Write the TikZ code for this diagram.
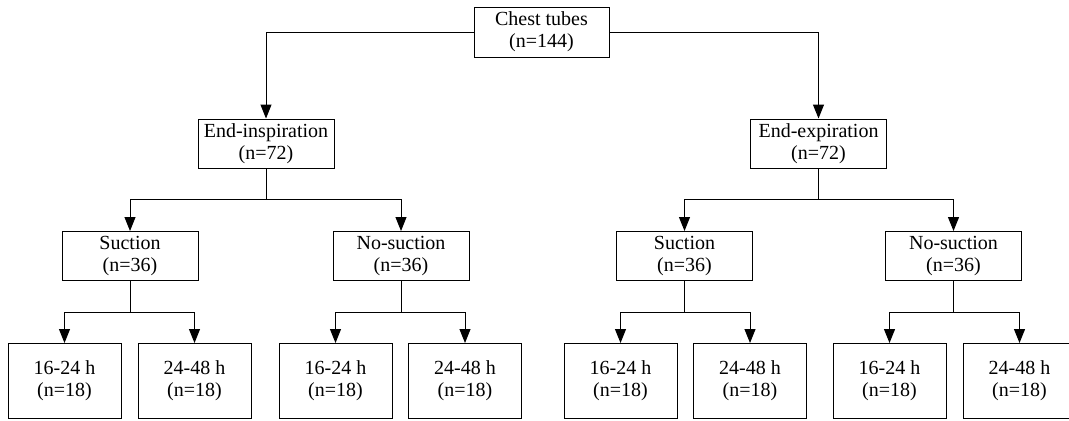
\documentclass[tikz,border=0pt]{standalone}
\usepackage{fontspec}
\setmainfont{Liberation Serif}
\usetikzlibrary{arrows.meta, calc}

\tikzset{
  box/.style={draw, line width=0.5pt, align=center, inner sep=0pt,
              font=\fontsize{10}{11}\selectfont},
  topbox/.style={box, minimum width=67.5pt, minimum height=25pt},
  midbox/.style={box, minimum width=68pt, minimum height=24.5pt},
  leafbox/.style={box, minimum width=56.5pt, minimum height=37.5pt},
  arr/.style={draw, line width=0.5pt, -{Triangle[length=7pt, width=5.5pt]}},
  fork/.style={arr, to path={(\tikztostart) |- ($(\tikztostart)!0.5!(\tikztotarget.north)$) -| (\tikztotarget)}}
}

\begin{document}
\begin{tikzpicture}[x=0.5pt, y=-0.5pt]
    \useasboundingbox (0,0) rectangle (1069,420);

    % root and phases
    \node[topbox] (tubes) at (541.5,32) {Chest tubes\\(n=144)};
    \node[midbox] (insp) at (266,143.5) {End-inspiration\\(n=72)};
    \node[midbox] (exp) at (818.5,143.5) {End-expiration\\(n=72)};

    % suction groups
    \node[midbox] (suc1) at (130,256) {Suction\\(n=36)};
    \node[midbox] (nosuc1) at (401,256) {No-suction\\(n=36)};
    \node[midbox] (suc2) at (684.5,256) {Suction\\(n=36)};
    \node[midbox] (nosuc2) at (953.5,256) {No-suction\\(n=36)};

    % duration groups
    \foreach \x/\t [count=\i] in {64.5/16-24, 194.5/24-48, 335.5/16-24, 465/24-48,
                                  620.5/16-24, 750/24-48, 889.5/16-24, 1019.5/24-48}
      \node[leafbox] (dur\i) at (\x,381) {\t{} h\\(n=18)};

    \draw[arr] (tubes.west) -| (insp);
    \draw[arr] (tubes.east) -| (exp);
    \path (insp.south) edge[fork] (suc1) edge[fork] (nosuc1);
    \path (exp.south) edge[fork] (suc2) edge[fork] (nosuc2);
    \path (suc1.south) edge[fork] (dur1) edge[fork] (dur2);
    \path (nosuc1.south) edge[fork] (dur3) edge[fork] (dur4);
    \path (suc2.south) edge[fork] (dur5) edge[fork] (dur6);
    \path (nosuc2.south) edge[fork] (dur7) edge[fork] (dur8);
\end{tikzpicture}
\end{document}
